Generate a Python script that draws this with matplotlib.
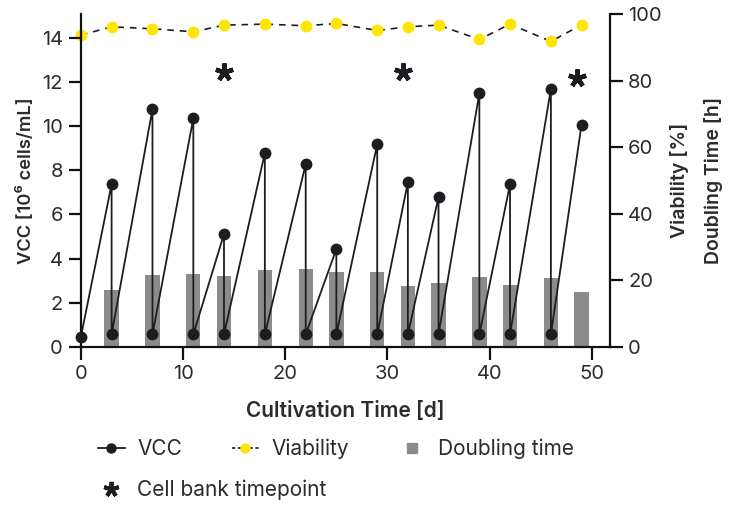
import numpy as np
import matplotlib
matplotlib.use("Agg")
import matplotlib.pyplot as plt
from matplotlib.lines import Line2D

# fonts
plt.rcParams['font.family'] = ['Inter', 'DejaVu Sans']
tick_fontsize = 14.5
legend_fontsize = 15
text_color = '#2b2b2b'

# data
passage_days = [3, 7, 11, 14, 18, 22, 25, 29, 32, 35, 39, 42, 46, 49]
peak_vcc = [7.37, 10.77, 10.36, 5.11, 8.78, 8.28, 4.43, 9.18, 7.46, 6.78, 11.5, 7.37, 11.68, 10.06]
seed_vcc = [0.57, 0.57, 0.57, 0.57, 0.57, 0.57, 0.57, 0.57, 0.57, 0.57, 0.57, 0.57, 0.57]
start_day = 0
start_vcc = 0.47

viability_days = [0, 3, 7, 11, 14, 18, 22, 25, 29, 32, 35, 39, 42, 46, 49]
viability = [93.7, 96.2, 95.6, 94.7, 96.7, 97.0, 96.5, 97.2, 95.1, 96.2, 96.7, 92.4, 97.0, 91.8, 96.8]

doubling_days = [3, 7, 11, 14, 18, 22, 25, 29, 32, 35, 39, 42, 46, 49]
doubling_time = [17.1, 21.6, 21.9, 21.3, 23.1, 23.4, 22.5, 22.5, 18.3, 19.2, 21.0, 18.6, 20.7, 16.5]

cellbank_days = [14, 31.5, 48.6]
cellbank_y = [12.45, 12.45, 12.2]

# build the sawtooth: grow to peak, then re-seed at the same day
vcc_x = [start_day]
vcc_y = [start_vcc]
for i, d in enumerate(passage_days):
    vcc_x.append(d)
    vcc_y.append(peak_vcc[i])
    if i < len(seed_vcc):
        vcc_x.append(d)
        vcc_y.append(seed_vcc[i])

vcc_color = '#1d1d21'
yellow = '#ffe500'
bar_color = '#8a8b8a'
asterisk = (5, 2, 0)

fig = plt.figure(figsize=(7.36, 5.05), dpi=100)
ax1 = fig.add_axes([0.110, 0.313, 0.719, 0.659])
ax2 = ax1.twinx()
ax1.set_zorder(ax2.get_zorder() + 1)
ax1.patch.set_visible(False)

ax2.bar(doubling_days, doubling_time, width=1.4, color=bar_color, zorder=1)
ax2.plot(viability_days, viability, linestyle=(0, (4, 3.5)), color='#1d1d21', lw=1.2,
         marker='o', markersize=7.5, markerfacecolor=yellow, markeredgecolor=yellow,
         clip_on=False, zorder=3)

ax1.plot(vcc_x, vcc_y, color=vcc_color, lw=1.3, marker='o', markersize=7.5,
         clip_on=False, zorder=4)
ax1.plot(cellbank_days, cellbank_y, linestyle='none', marker=asterisk, markersize=13,
         markeredgewidth=3.2, color=vcc_color, clip_on=False)

ax1.set_xlim(0, 51.8)
ax1.set_ylim(0, 15.07)
ax2.set_ylim(0, 100)
ax1.set_xticks(np.arange(0, 51, 10))
ax1.set_yticks(np.arange(0, 15, 2))
ax2.set_yticks(np.arange(0, 101, 20))

for ax in (ax1, ax2):
    ax.spines['top'].set_visible(False)
    for s in ax.spines.values():
        s.set_linewidth(1.6)
        s.set_color('#111111')
    ax.tick_params(length=9, width=1.6, labelsize=tick_fontsize, labelcolor=text_color,
                   color='#111111', pad=4)
ax1.spines['right'].set_visible(False)
ax2.spines['left'].set_visible(False)
ax2.spines['bottom'].set_visible(False)

ax1.set_xlabel('Cultivation Time [d]', fontsize=15, fontweight='semibold',
               color=text_color, labelpad=13)
ax1.set_ylabel('VCC [10\u2076 cells/mL]', fontsize=13.2, fontweight='semibold',
               color=text_color, labelpad=5)
ax2.set_ylabel('Viability [%]\nDoubling Time [h]', fontsize=14, fontweight='semibold',
               color=text_color, labelpad=6, linespacing=1.95)

# legend in two rows
h_vcc = Line2D([], [], color=vcc_color, lw=1.3, marker='o', markersize=6.5)
h_via = Line2D([], [], color='#1d1d21', lw=1.2, linestyle=(0, (2, 1.5)), marker='o',
               markersize=6.5, markerfacecolor=yellow, markeredgecolor=yellow)
h_dbl = Line2D([], [], linestyle='none', marker='s', markersize=7, color=bar_color)
h_cb = Line2D([], [], linestyle='none', marker=asterisk, markersize=11,
              markeredgewidth=2.8, color=vcc_color)

leg1 = fig.legend([h_vcc, h_via, h_dbl], ['VCC', 'Viability', 'Doubling time'],
                  ncol=3, loc='center left', bbox_to_anchor=(0.133, 0.111),
                  frameon=False, fontsize=legend_fontsize, handlelength=1.3,
                  handletextpad=0.58, columnspacing=2.4, borderaxespad=0,
                  borderpad=0, labelcolor=text_color)
leg2 = fig.legend([h_cb], ['Cell bank timepoint'], loc='center left',
                  bbox_to_anchor=(0.133, 0.03), frameon=False, fontsize=legend_fontsize,
                  handlelength=1.3, handletextpad=0.58, borderaxespad=0,
                  borderpad=0, labelcolor=text_color)

fig.savefig('out.png', dpi=100)
